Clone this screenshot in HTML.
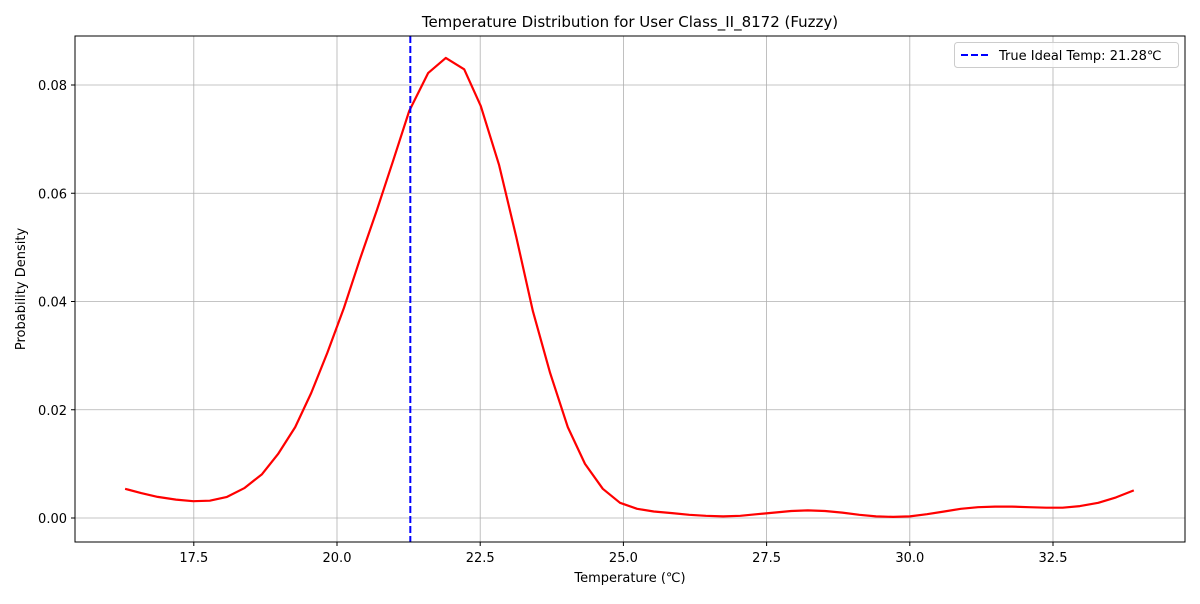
<!DOCTYPE html>
<html><head><meta charset="utf-8"><style>
body{margin:0;background:#fff;font-family:"DejaVu Sans","Liberation Sans",sans-serif;}
svg text{font-family:"DejaVu Sans","Liberation Sans",sans-serif;}
</style></head><body>
<svg id="chart" width="1200" height="600" xmlns="http://www.w3.org/2000/svg">
<rect width="1200" height="600" fill="#fff"/>
<g id="grid"></g>
<g id="series"></g>
<rect x="75" y="36" width="1110" height="506" fill="none" stroke="#000" stroke-width="1"/>
<g id="ticks"></g>
<text x="630" y="27" font-size="15" text-anchor="middle">Temperature Distribution for User Class_II_8172 (Fuzzy)</text>
<text x="630" y="582" font-size="13" text-anchor="middle">Temperature (℃)</text>
<text x="25" y="289" font-size="13" text-anchor="middle" transform="rotate(-90 25 289)">Probability Density</text>
<g>
<rect x="954.5" y="42.5" width="224" height="25" rx="3" fill="#fff" fill-opacity="0.8" stroke="#ccc"/>
<line x1="961" y1="55" x2="989" y2="55" stroke="#0000ff" stroke-width="2" stroke-dasharray="7,3"/>
<text x="999" y="60" font-size="13">True Ideal Temp: 21.28℃</text>
</g>
</svg>
<script>
const temps=[16.30,16.58,16.87,17.19,17.49,17.78,18.08,18.38,18.69,18.97,19.27,19.55,19.83,20.12,20.40,20.70,20.98,21.26,21.59,21.90,22.22,22.51,22.83,23.13,23.42,23.72,24.03,24.33,24.64,24.94,25.24,25.53,25.85,26.15,26.44,26.74,27.04,27.33,27.63,27.93,28.22,28.52,28.82,29.12,29.41,29.71,30.00,30.30,30.60,30.89,31.19,31.49,31.78,32.08,32.38,32.67,32.97,33.29,33.60,33.91];
const density=[0.0054,0.0046,0.0039,0.0034,0.0031,0.0032,0.0039,0.0055,0.0081,0.0118,0.0168,0.0231,0.0305,0.0388,0.0478,0.0570,0.0660,0.0752,0.0822,0.0850,0.0829,0.0761,0.0652,0.0519,0.0382,0.0268,0.0168,0.0100,0.0054,0.0028,0.0017,0.0012,0.0009,0.0006,0.0004,0.0003,0.0004,0.0007,0.0010,0.0013,0.0014,0.0013,0.0010,0.0006,0.0003,0.0002,0.0003,0.0007,0.0012,0.0017,0.0020,0.0021,0.0021,0.0020,0.0019,0.0019,0.0022,0.0028,0.0038,0.0051];
const xTicks=[17.5,20.0,22.5,25.0,27.5,30.0,32.5];
const yTicks=[0.00,0.02,0.04,0.06,0.08];
const idealTemp=[21.28];
const NS="http://www.w3.org/2000/svg";
const xs=v=>337+(v-20)*57.28;
const ys=v=>518-v*5412.5;
const grid=document.getElementById('grid'),ticks=document.getElementById('ticks'),series=document.getElementById('series');
function mk(tag,attrs,parent){const e=document.createElementNS(NS,tag);for(const k in attrs)e.setAttribute(k,attrs[k]);parent.appendChild(e);return e;}
xTicks.forEach(t=>{const x=xs(t);
 const g=mk('line',{x1:x,x2:x,y1:36,y2:542,stroke:'#b0b0b0','stroke-width':0.8},grid);
 
 
 const tk=mk('line',{x1:x,x2:x,y1:542,y2:546,stroke:'#000'},ticks);
 
 
 const tx=mk('text',{x:x,y:562,'font-size':13,'text-anchor':'middle'},ticks);tx.textContent=t.toFixed(1);
 
 
});
yTicks.forEach(t=>{const y=ys(t);
 const g=mk('line',{x1:75,x2:1185,y1:y,y2:y,stroke:'#b0b0b0','stroke-width':0.8},grid);
 
 
 const tk=mk('line',{x1:71,x2:75,y1:y,y2:y,stroke:'#000'},ticks);
 
 
 const tx=mk('text',{x:67,y:y+5,'font-size':13,'text-anchor':'end'},ticks);tx.textContent=t.toFixed(2);
 
 
});
const pts=temps.map((t,i)=>xs(t).toFixed(1)+','+ys(density[i]).toFixed(1)).join(' ');
const pl=mk('polyline',{points:pts,fill:'none',stroke:'#ff0000','stroke-width':2.2,'stroke-linejoin':'round'},series);


idealTemp.forEach(v=>{
 const l=mk('line',{x1:xs(v),x2:xs(v),y1:36,y2:542,stroke:'#0000ff','stroke-width':2,'stroke-dasharray':'7,3'},series);
 
 
});
</script>
</body></html>
